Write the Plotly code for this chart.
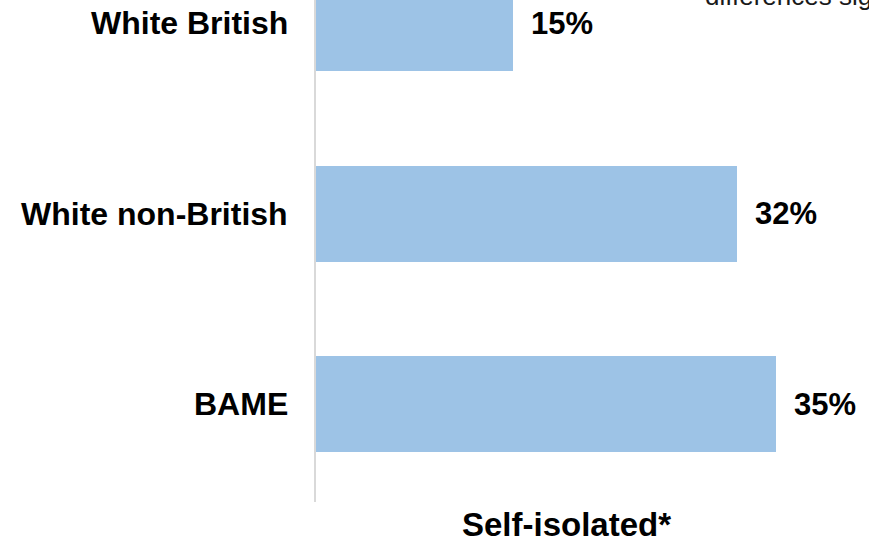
import plotly.graph_objects as go

# Share of each group that self-isolated (%)
categories = ["BAME", "White non-British", "White British"]
values = [35, 32, 15]
value_labels = ["35%", "32%", "15%"]
axis_title = "Self-isolated*"
note_text = "differences significant"

BAR_COLOR = "#9DC3E6"
FONT = "Liberation Sans, Arial, sans-serif"

fig = go.Figure(
    go.Bar(
        x=values,
        y=categories,
        orientation="h",
        marker=dict(color=BAR_COLOR, line=dict(width=0)),
        width=0.504,
        hoverinfo="skip",
    )
)

annotations = []
# value labels right of each bar
for cat, val, lab in zip(categories, values, value_labels):
    annotations.append(dict(
        x=val, y=cat, xref="x", yref="y", text=f"<b>{lab}</b>",
        showarrow=False, xanchor="left", yanchor="middle", xshift=16,
        font=dict(family=FONT, size=31, color="#000000"),
    ))
# category labels left of the axis
for cat in categories:
    annotations.append(dict(
        x=0, y=cat, xref="paper", yref="y", text=f"<b>{cat}</b>",
        showarrow=False, xanchor="right", yanchor="middle", xshift=-26,
        font=dict(family=FONT, size=32, color="#000000"),
    ))
# axis title under the bars
annotations.append(dict(
    x=(566 - 316) / 553, y=0, xref="paper", yref="paper", text=f"<b>{axis_title}</b>",
    showarrow=False, xanchor="center", yanchor="middle", yshift=-22,
    font=dict(family=FONT, size=33, color="#000000"),
))
# footnote at the top right
annotations.append(dict(
    x=(703 - 316) / 553, y=1, xref="paper", yref="paper", text=note_text,
    showarrow=False, xanchor="left", yanchor="bottom", yshift=-13,
    font=dict(family=FONT, size=26, color="#1a1a1a"),
))

fig.update_layout(
    width=869, height=543,
    margin=dict(l=316, r=0, t=0, b=41),
    paper_bgcolor="white", plot_bgcolor="white",
    showlegend=False,
    bargap=0,
    xaxis=dict(range=[0, 42.08], visible=False, fixedrange=True),
    yaxis=dict(
        range=[-0.514, 2.121], showticklabels=False, showgrid=False,
        zeroline=False, showline=True, linecolor="#D9D9D9", linewidth=2,
        ticks="", fixedrange=True,
    ),
    annotations=annotations,
)

fig.write_html("out.html", config=dict(displayModeBar=False))
